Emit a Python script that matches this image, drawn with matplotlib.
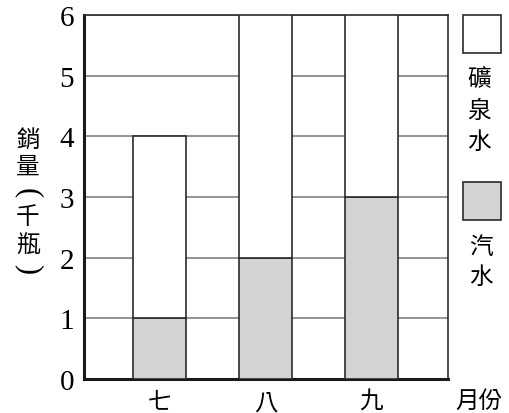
import matplotlib
matplotlib.use("Agg")
import matplotlib.pyplot as plt
from matplotlib.patches import Rectangle

months = ["七", "八", "九"]
soda = [1, 2, 3]
mineral = [3, 4, 3]
yticks = [0, 1, 2, 3, 4, 5, 6]
legend_labels = ["礦泉水", "汽水"]
ylabel_chars = ["銷", "量", "(", "千", "瓶", ")"]
xlabel = "月份"

cjk = ["Noto Sans CJK TC", "DejaVu Sans"]
serif = ["Liberation Serif", "DejaVu Serif"]
gray = "#d1d3d4"
edge = "#2b2b2b"

fig = plt.figure(figsize=(5.09, 4.14), dpi=100)
ax = fig.add_axes([84/509, 34/414, 364/509, 364/414])

x = [1, 2, 3]
ax.bar(x, soda, width=0.5, color=gray, edgecolor=edge, linewidth=1.2, zorder=3)
ax.bar(x, mineral, width=0.5, bottom=soda, color="white", edgecolor=edge, linewidth=1.2, zorder=3)

ax.set_xlim(1 - 75.5/106, 3 + 76.5/106)
ax.set_ylim(0, 6)
ax.set_yticks(yticks)
ax.set_yticklabels([str(v) for v in yticks], fontfamily=serif, fontsize=21)
ax.set_xticks(x)
ax.set_xticklabels(months, fontfamily=cjk, fontsize=17)
ax.tick_params(length=0)
ax.tick_params(axis="y", pad=7)
ax.tick_params(axis="x", pad=8)
ax.yaxis.grid(True, color="#8a8a8a", linewidth=1.3, zorder=1)
ax.set_axisbelow(True)
for s in ["left", "bottom"]:
    ax.spines[s].set_linewidth(2.2)
    ax.spines[s].set_color("#1a1a1a")
for s in ["top", "right"]:
    ax.spines[s].set_linewidth(1.2)
    ax.spines[s].set_color(edge)

# y label stacked vertically (parentheses turned for vertical writing)
ypos = [140, 167, 193, 218, 246, 269]
for ch, yy in zip(ylabel_chars, ypos):
    if ch in "()":
        fig.text(28/509, 1 - yy/414, ch, fontfamily=serif, fontsize=22,
                 ha="center", va="center", rotation=-90)
    else:
        fig.text(28/509, 1 - yy/414, ch, fontfamily=cjk, fontsize=17,
                 ha="center", va="center")

# x label
fig.text(479/509, 1 - 401/414, xlabel, fontfamily=cjk, fontsize=17, ha="center", va="center")

# legend
fig.patches.append(Rectangle((463/509, 1 - 54/414), 38/509, 38/414, transform=fig.transFigure,
                             facecolor="white", edgecolor=edge, linewidth=1.2))
for i, ch in enumerate(legend_labels[0]):
    fig.text(479/509, 1 - (80 + i*31)/414, ch, fontfamily=cjk, fontsize=17, ha="center", va="center")
fig.patches.append(Rectangle((463/509, 1 - 221/414), 38/509, 38/414, transform=fig.transFigure,
                             facecolor=gray, edgecolor=edge, linewidth=1.2))
for i, ch in enumerate(legend_labels[1]):
    fig.text(481/509, 1 - (248 + i*29)/414, ch, fontfamily=cjk, fontsize=17, ha="center", va="center")

fig.savefig("out.png", dpi=100)
